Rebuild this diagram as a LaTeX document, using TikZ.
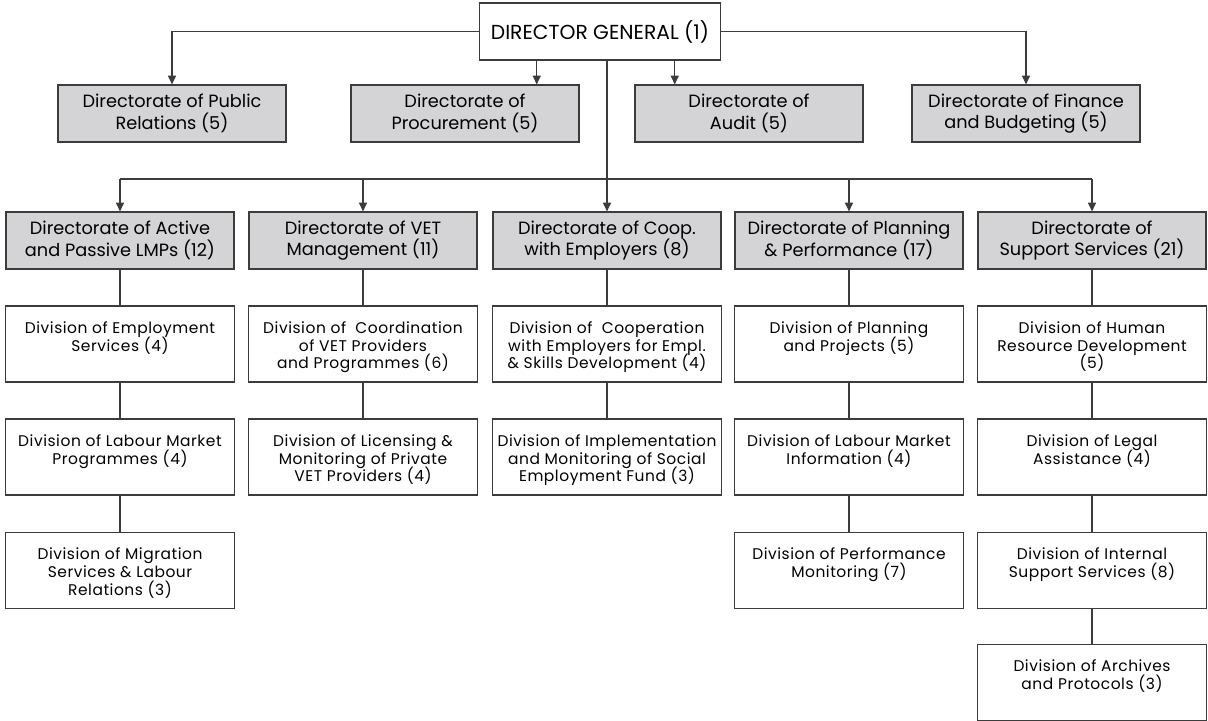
\documentclass[tikz,border=0pt]{standalone}
\usepackage{fontspec}
\setmainfont{Poppins}
\newfontfamily\divfont[LetterSpace=3.5]{Poppins}
\usetikzlibrary{arrows.meta}

\definecolor{boxgray}{RGB}{212,212,214}
\definecolor{linegray}{RGB}{60,60,60}

\newcommand{\tightlines}{\lineskiplimit=-8pt\relax}
\newcommand{\divtext}[1]{\parbox[c][57pt][t]{172pt}{\divfont\fontsize{11.6}{13.3}\selectfont\tightlines\centering\rule{0pt}{20.5pt}#1}}

\begin{document}
\begin{tikzpicture}[x=0.75pt, y=-0.75pt, >={Triangle[length=6.5pt,width=6pt]},
  topbox/.style={draw=linegray, fill=white, line width=0.9pt, minimum width=181pt, minimum height=42.75pt, font=\fontsize{15.2}{16}\selectfont},
  dirbox/.style={draw=linegray, fill=boxgray, line width=0.9pt, minimum width=171pt, minimum height=42.75pt, inner sep=0pt, align=center, font={\fontsize{13.3}{16.3}\selectfont\tightlines}},
  divbox/.style={draw=linegray, fill=white, line width=0.9pt, inner sep=0pt},
  link/.style={draw=linegray, line width=0.8pt}]

\useasboundingbox (0,0) rectangle (1208,721);

\def\ya{113.5};
\def\yb{240.5};
\def\yc{344};
\def\yd{457};
\def\ye{570.5};
\def\yf{682.5};

% top
\node[topbox] (dg) at (600,31.5) {DIRECTOR GENERAL (1)};

\node[dirbox] (pr) at (172,\ya) {Directorate of Public\\Relations (5)};
\node[dirbox] (proc) at (465,\ya) {Directorate of\\Procurement (5)};
\node[dirbox] (aud) at (749,\ya) {Directorate of\\Audit (5)};
\node[dirbox] (fin) at (1026,\ya) {Directorate of Finance\\and Budgeting (5)};

\coordinate (bus) at (0,179);

\node[dirbox] (lmp) at (120,\yb) {Directorate of Active\\and Passive LMPs (12)};
\node[dirbox] (vet) at (363,\yb) {Directorate of VET\\Management (11)};
\node[dirbox] (coop) at (607,\yb) {Directorate of Coop.\\with Employers (8)};
\node[dirbox] (plan) at (849,\yb) {Directorate of Planning\\\& Performance (17)};
\node[dirbox] (sup) at (1092,\yb) {Directorate of\\Support Services (21)};

% divisions
\node[divbox] (lmpa) at (120,\yc) {\divtext{Division of Employment\\Services (4)}};
\node[divbox] (lmpb) at (120,\yd) {\divtext{Division of Labour Market\\Programmes (4)}};
\node[divbox] (lmpc) at (120,\ye) {\divtext{Division of Migration\\Services \& Labour\\Relations (3)}};

\node[divbox] (veta) at (363,\yc) {\divtext{Division of \ Coordination\\of VET Providers\\and Programmes (6)}};
\node[divbox] (vetb) at (363,\yd) {\divtext{Division of Licensing \&\\Monitoring of Private\\VET Providers (4)}};

\node[divbox] (coopa) at (607,\yc) {\divtext{Division of \ Cooperation\\with Employers for Empl.\\\& Skills Development (4)}};
\node[divbox] (coopb) at (607,\yd) {\divtext{Division of Implementation\\and Monitoring of Social\\Employment Fund (3)}};

\node[divbox] (plana) at (849,\yc) {\divtext{Division of Planning\\and Projects (5)}};
\node[divbox] (planb) at (849,\yd) {\divtext{Division of Labour Market\\Information (4)}};
\node[divbox] (planc) at (849,\ye) {\divtext{Division of Performance\\Monitoring (7)}};

\node[divbox] (supa) at (1092,\yc) {\divtext{Division of Human\\Resource Development\\(5)}};
\node[divbox] (supb) at (1092,\yd) {\divtext{Division of Legal\\Assistance (4)}};
\node[divbox] (supc) at (1092,\ye) {\divtext{Division of Internal\\Support Services (8)}};
\node[divbox] (supd) at (1092,\yf) {\divtext{Division of Archives\\and Protocols (3)}};

% connectors
\draw[link, ->] (dg.west) -| (pr.north);
\draw[link, ->] (dg.east) -| (fin.north);
\draw[link, ->] ([xshift=43.5pt]dg.south west) -- ([xshift=43.5pt]dg.south west |- proc.north);
\draw[link, ->] ([xshift=147pt]dg.south west) -- ([xshift=147pt]dg.south west |- aud.north);
\draw[link, ->] (dg.south -| coop.north) -- (coop.north);

\draw[link] (lmp.north |- bus) -- (sup.north |- bus);
\draw[link, ->] (lmp.north |- bus) -- (lmp.north);
\draw[link, ->] (vet.north |- bus) -- (vet.north);
\draw[link, ->] (plan.north |- bus) -- (plan.north);
\draw[link, ->] (sup.north |- bus) -- (sup.north);

\draw[link] (lmp) -- (lmpa) -- (lmpb) -- (lmpc);
\draw[link] (vet) -- (veta) -- (vetb);
\draw[link] (coop) -- (coopa) -- (coopb);
\draw[link] (plan) -- (plana) -- (planb) -- (planc);
\draw[link] (sup) -- (supa) -- (supb) -- (supc) -- (supd);

\end{tikzpicture}
\end{document}
